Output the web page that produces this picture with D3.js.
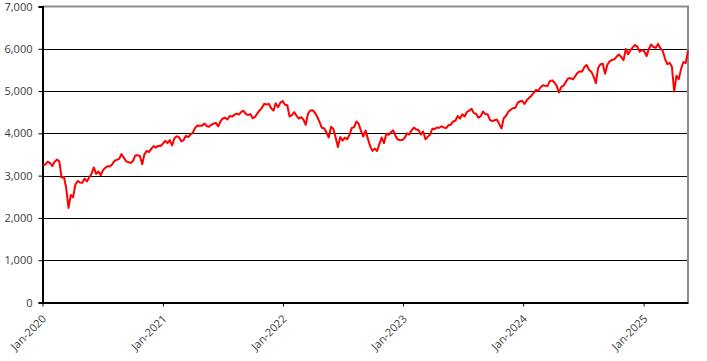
<!DOCTYPE html>
<html>
<head>
<meta charset="utf-8">
<script src="https://cdn.jsdelivr.net/npm/d3@7"></script>
<style>
	body { margin: 0; background: #fff; }
	text { font-family: "Open Sans", sans-serif; font-size: 11px; fill: #3a3a3a; }
</style>
</head>
<body>
<svg id="chart" width="707" height="361"></svg>
<script>
// weekly closes (friday)
var close2020 = [3235, 3265, 3330, 3295, 3226, 3328, 3380, 3338, 2954, 2972, 2711, 2237, 2541,
	2489, 2790, 2875, 2837, 2831, 2930, 2864, 2955, 3044, 3194, 3041, 3098, 3009,
	3130, 3185, 3225, 3216, 3271, 3351, 3373, 3397, 3508, 3427, 3341, 3319, 3298,
	3348, 3477, 3484, 3465, 3270, 3510, 3585, 3557, 3638, 3699, 3663, 3709, 3703];
var close2021 = [3756, 3825, 3768, 3841, 3714, 3887, 3934, 3907, 3811, 3842, 3943, 3913, 3975,
	4020, 4129, 4185, 4180, 4181, 4233, 4174, 4156, 4204, 4230, 4247, 4166, 4281,
	4352, 4370, 4327, 4412, 4395, 4437, 4468, 4442, 4509, 4535, 4459, 4433, 4455,
	4357, 4391, 4471, 4545, 4605, 4697, 4683, 4698, 4595, 4538, 4712, 4620, 4726, 4766];
var close2022 = [4677, 4663, 4398, 4432, 4501, 4419, 4349, 4385, 4329, 4204, 4463, 4543,
	4546, 4488, 4393, 4272, 4132, 4123, 4024, 3901, 4158, 4109, 3901, 3675, 3912,
	3825, 3899, 3863, 3962, 4130, 4145, 4280, 4228, 4058, 3924, 4067, 3873, 3693, 3586,
	3640, 3583, 3752, 3901, 3771, 3993, 3965, 4026, 4072, 3934, 3852, 3845, 3840];
var close2023 = [3895, 3999, 3973, 4071, 4136, 4090, 4079, 3970, 4045, 3862, 3917, 3971, 4109,
	4105, 4137, 4133, 4169, 4136, 4124, 4192, 4205, 4282, 4299, 4410, 4348, 4450,
	4399, 4505, 4536, 4582, 4478, 4464, 4370, 4406, 4516, 4457, 4450, 4320, 4288,
	4309, 4327, 4224, 4117, 4358, 4415, 4514, 4559, 4595, 4604, 4719, 4755, 4770];
var close2024 = [4697, 4784, 4840, 4891, 4959, 5027, 5006, 5089, 5137, 5124, 5117, 5234, 5254,
	5204, 5123, 4967, 5100, 5128, 5223, 5303, 5305, 5278, 5347, 5432, 5465, 5460,
	5567, 5615, 5505, 5459, 5347, 5186, 5554, 5635, 5648, 5408, 5626, 5703, 5738,
	5751, 5815, 5865, 5808, 5729, 5996, 5870, 5969, 6032, 6090, 6051, 5931, 5971];
var close2025 = [5942, 5827, 5997, 6101, 6041, 6026, 6115, 6013, 5955, 5770, 5639, 5668, 5581,
	4990, 5363, 5283, 5525, 5687, 5660, 5958];

var yTicks = [0, 1000, 2000, 3000, 4000, 5000, 6000, 7000];
var yearTicks = [2020, 2021, 2022, 2023, 2024, 2025];

var closes = [].concat(close2020, close2021, close2022, close2023, close2024, close2025);
var fridays = d3.timeFriday.range(new Date(2020, 0, 3), new Date(2025, 4, 17));
var data = closes.map(function(v, i) { return {date: fridays[i], value: v}; });

// plot box (window.top is reserved, so no "top" here)
var plotL = 42.5, plotR = 688, plotT = 6.5, plotB = 302.5;

var x = d3.scaleTime()
	.domain([new Date(2020, 0, 1), new Date(2025, 4, 16)])
	.range([plotL, plotR]);
var y = d3.scaleLinear()
	.domain([0, 7000])
	.range([plotB, plotT]);

var svg = d3.select("#chart");

// gridlines
svg.append("g")
	.selectAll("line")
	.data(yTicks.slice(1, -1))
	.enter().append("line")
	.attr("x1", plotL).attr("x2", plotR)
	.attr("y1", function(d) { return Math.round(y(d)) + 0.5; })
	.attr("y2", function(d) { return Math.round(y(d)) + 0.5; })
	.attr("stroke", "#000")
	.attr("stroke-width", 1);

// grey frame top + right
svg.append("path")
	.attr("d", "M" + plotL + "," + plotT + "H" + plotR + "V" + plotB)
	.attr("fill", "none")
	.attr("stroke", "#8c8c8c")
	.attr("stroke-width", 2);

// y axis
var yAxis = d3.axisLeft(y)
	.tickValues(yTicks)
	.tickSize(4)
	.tickPadding(6)
	.tickFormat(d3.format(","));
var gy = svg.append("g")
	.attr("transform", "translate(" + plotL + ",0)")
	.call(yAxis);
gy.select(".domain").attr("stroke", "#000").attr("stroke-width", 2);
gy.selectAll(".tick line").attr("stroke", "#000");
gy.selectAll("text").attr("fill", "#3a3a3a").style("font-size", "11px");

// x axis, labels turned 45deg
var xAxis = d3.axisBottom(x)
	.tickValues(yearTicks.map(function(yr) { return new Date(yr, 0, 1); }))
	.tickSize(4)
	.tickSizeOuter(0)
	.tickFormat(d3.timeFormat("Jan-%Y"));
var gx = svg.append("g")
	.attr("transform", "translate(0," + plotB + ")")
	.call(xAxis);
gx.select(".domain").attr("stroke", "#000").attr("stroke-width", 2);
gx.selectAll(".tick line").attr("stroke", "#000");
gx.selectAll("text")
	.attr("fill", "#3a3a3a")
	.style("font-size", "11px")
	.style("text-anchor", "end")
	.attr("dy", null)
	.attr("x", 0)
	.attr("y", 0)
	.attr("transform", "translate(4,17) rotate(-45)");

// the series
var line = d3.line()
	.x(function(d) { return x(d.date); })
	.y(function(d) { return y(d.value); });

svg.append("path")
	.datum(data)
	.attr("d", line)
	.attr("fill", "none")
	.attr("stroke", "#ff0000")
	.attr("stroke-width", 2)
	.attr("stroke-linejoin", "round");
</script>
</body>
</html>
